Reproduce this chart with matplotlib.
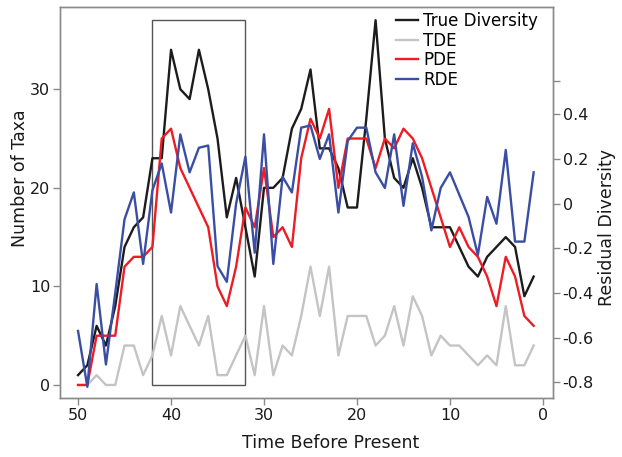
import matplotlib
matplotlib.use("Agg")
import matplotlib.pyplot as plt
from matplotlib.patches import Rectangle

time = list(range(50, 0, -1))

true_div = [1, 2, 6, 4, 8, 14, 16, 17, 23, 23,
            34, 30, 29, 34, 30, 25, 17, 21, 16, 11,
            20, 20, 21, 26, 28, 32, 24, 24, 22, 18,
            18, 27, 37, 25, 21, 20, 23, 20, 16, 16,
            16, 14, 12, 11, 13, 14, 15, 14, 9, 11]

tde = [0, 0, 1, 0, 0, 4, 4, 1, 3, 7,
       3, 8, 6, 4, 7, 1, 1, 3, 5, 1,
       8, 1, 4, 3, 7, 12, 7, 12, 3, 7,
       7, 7, 4, 5, 8, 4, 9, 7, 3, 5,
       4, 4, 3, 2, 3, 2, 8, 2, 2, 4]

pde = [0, 0, 5, 5, 5, 12, 13, 13, 14, 25,
       26, 22, 20, 18, 16, 10, 8, 12, 18, 16,
       22, 15, 16, 14, 23, 27, 25, 28, 20, 25,
       25, 25, 22, 25, 24, 26, 25, 23, 20, 17,
       14, 16, 14, 13, 11, 8, 13, 11, 7, 6]

rde = [-0.57, -0.82, -0.36, -0.72, -0.40, -0.07, 0.05, -0.27, 0.06, 0.18,
       -0.04, 0.31, 0.14, 0.25, 0.26, -0.28, -0.35, 0.00, 0.21, -0.22,
       0.31, -0.27, 0.12, 0.05, 0.34, 0.35, 0.20, 0.31, -0.04, 0.28,
       0.34, 0.34, 0.14, 0.07, 0.31, -0.01, 0.27, 0.12, -0.12, 0.07,
       0.14, 0.04, -0.06, -0.23, 0.03, -0.09, 0.24, -0.17, -0.17, 0.14]

left_ticks = [0, 10, 20, 30]
right_ticks = [-0.8, -0.6, -0.4, -0.2, 0, 0.2, 0.4, 0.55]
right_labels = ["-0.8", "-0.6", "-0.4", "-0.2", "0", "0.2", "0.4", ""]
x_ticks = [50, 40, 30, 20, 10, 0]
box_time = (42, 32)
box_taxa = (0, 37)

c_true = "#1c1c1c"
c_tde = "#c4c4c4"
c_pde = "#ee1c24"
c_rde = "#3a4ea4"
spine_c = "#8a8a8a"

plt.rcParams["font.family"] = ["DejaVu Sans"]

fig = plt.figure(figsize=(6.22, 4.57), dpi=100)
ax = fig.add_axes([60/622, 1-398/457, (553-60)/622, (398-7)/457])
ax2 = ax.twinx()

lw = 1.7
h1, = ax.plot(time, true_div, color=c_true, lw=lw, label="True Diversity", zorder=3)
h2, = ax.plot(time, tde, color=c_tde, lw=lw, label="TDE", zorder=2)
h3, = ax.plot(time, pde, color=c_pde, lw=lw, label="PDE", zorder=4)
h4, = ax2.plot(time, rde, color=c_rde, lw=lw, label="RDE")

ax.add_patch(Rectangle((box_time[0], box_taxa[0]), box_time[1]-box_time[0],
                       box_taxa[1]-box_taxa[0], fill=False, edgecolor="#555555",
                       lw=1.0, zorder=1))

ax.set_xlim(51.94, -1.08)
ax.set_ylim(-1.32, 38.34)
ax2.set_ylim(-0.87, 0.88)

ax.set_xticks(x_ticks)
ax.set_yticks(left_ticks)
ax2.set_yticks(right_ticks)
ax2.set_yticklabels(right_labels)

for a in (ax, ax2):
    for s in a.spines.values():
        s.set_color(spine_c)
        s.set_linewidth(1.0)
    a.tick_params(colors=spine_c, labelcolor="#1a1a1a", labelsize=11.5,
                  length=5, width=1.0, pad=2)

ax.set_xlabel("Time Before Present", fontsize=12.5, color="#1a1a1a")
ax.set_ylabel("Number of Taxa", fontsize=12.5, color="#1a1a1a")
ax2.set_ylabel("Residual Diversity", fontsize=12.5, color="#1a1a1a")
ax.xaxis.set_label_coords(0.548, -0.092)
ax.yaxis.set_label_coords(-0.062, 0.563)
ax2.yaxis.set_label_coords(1.092, 0.435)

leg = ax2.legend(handles=[h1, h2, h3, h4], loc="upper right", frameon=False,
                 fontsize=12, handlelength=1.35, handletextpad=0.3,
                 labelspacing=0.1, borderaxespad=0.1, borderpad=0.5,
                 bbox_to_anchor=(1 - 5/493, 1 + 5/391))

fig.savefig("out.png", dpi=100)
